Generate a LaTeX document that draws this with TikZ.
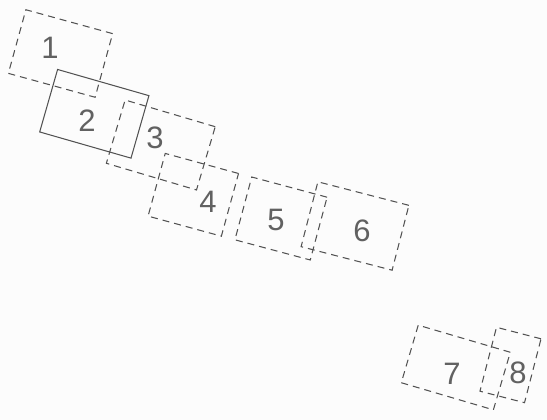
\documentclass[tikz,border=0pt]{standalone}
\usepackage{fontspec}
\setsansfont{Liberation Sans}
\usepackage{tikz}
\tikzset{
  zone/.style={draw=black!68, dash pattern=on 7pt off 5pt, line width=1.05pt,
    inner sep=0pt, fill=none},
  zsel/.style={draw=black!68, line width=1.05pt, inner sep=0pt},
  lbl/.style={text=black!62, inner sep=0pt,
    font=\sffamily\fontsize{31}{33}\selectfont}
}

\begin{document}
\begin{tikzpicture}[x=1pt, y=-1pt]
  \fill[black!1] (0,0) rectangle (547,420);
  \useasboundingbox (0,0) rectangle (547,420);

  % upper chain
  \node[zone, rotate=-15.4, minimum width=90pt, minimum height=66pt] (b1) at (60.5,53.5) {};
  \node[zsel, rotate=-16, minimum width=95pt, minimum height=65pt] (b2) at (94.3,113.8) {};
  \node[zone, rotate=-16.5, minimum width=94pt, minimum height=66pt] (b3) at (160.8,145) {};
  \node[zone, rotate=-15.3, minimum width=76pt, minimum height=65pt] (b4) at (193.3,194.8) {};
  \node[zone, rotate=-15, minimum width=78pt, minimum height=65pt] (b5) at (281,218.5) {};
  \node[zone, rotate=-14.5, minimum width=94pt, minimum height=67pt] (b6) at (355,226) {};

  % lower pair
  \node[zone, rotate=-16.4, minimum width=96pt, minimum height=60pt] (b7) at (455.8,367.5) {};
  \node[zone, rotate=-14.5, minimum width=46pt, minimum height=66pt] (b8) at (510.5,365) {};

  % numbers
  \node[lbl] (n1) at (50,48) {1};
  \node[lbl] (n2) at (87,121) {2};
  \node[lbl] (n3) at (155,138) {3};
  \node[lbl] (n4) at (208,202) {4};
  \node[lbl] (n5) at (276,220) {5};
  \node[lbl] (n6) at (362,231) {6};
  \node[lbl] (n7) at (452,374) {7};
  \node[lbl] (n8) at (518,373) {8};
\end{tikzpicture}
\end{document}
